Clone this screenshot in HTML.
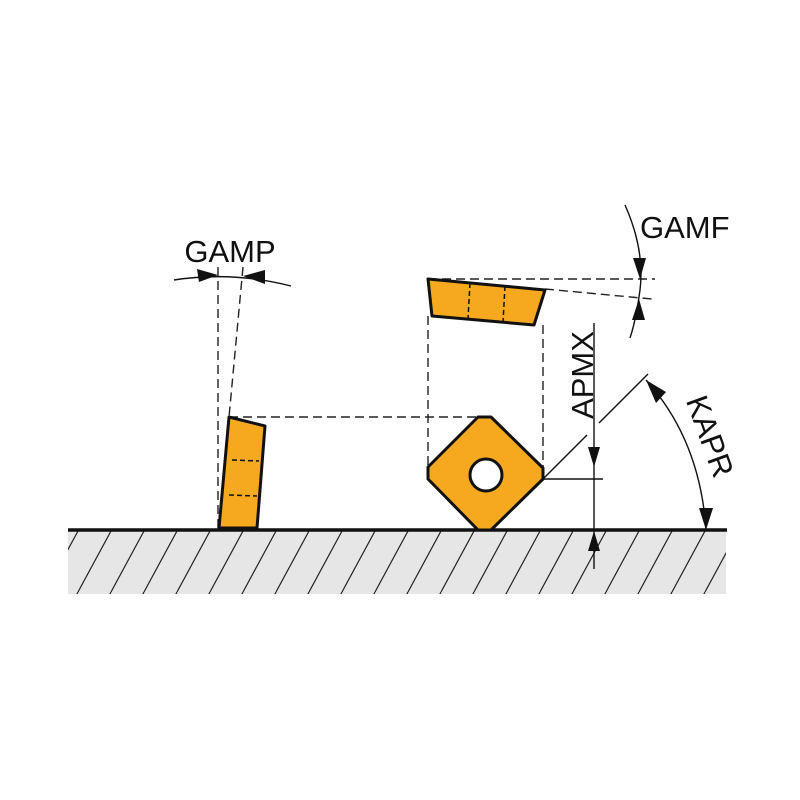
<!DOCTYPE html>
<html><head><style>body{margin:0;background:#fff}svg{display:block}</style></head><body>
<svg width="800" height="800" viewBox="0 0 800 800" xmlns="http://www.w3.org/2000/svg">
<defs>
<pattern id="h" patternUnits="userSpaceOnUse" width="33" height="61" x="573" y="531">
<line x1="0" y1="61" x2="33" y2="0" stroke="#222" stroke-width="1.2"/>
<line x1="-33" y1="61" x2="0" y2="0" stroke="#222" stroke-width="1.2"/>
<line x1="33" y1="61" x2="66" y2="0" stroke="#222" stroke-width="1.2"/>
</pattern>
<clipPath id="gc"><rect x="68" y="531" width="658" height="63"/></clipPath>
</defs>
<rect x="68" y="531" width="658" height="63" fill="#e6e6e7"/>
<g clip-path="url(#gc)">
<rect x="68" y="531" width="658" height="63" fill="url(#h)"/>
</g>
<line x1="68" y1="530" x2="727" y2="530" stroke="#111" stroke-width="3.5"/>

<g fill="none" stroke="#222" stroke-width="1.4" stroke-dasharray="9,5">
<line x1="218" y1="267" x2="218" y2="528"/>
<line x1="243" y1="267" x2="229" y2="417"/>
<line x1="229" y1="417" x2="490" y2="417"/>
<line x1="428" y1="316" x2="428" y2="467"/>
<line x1="543" y1="325" x2="543" y2="467"/>
<line x1="428" y1="279" x2="655" y2="279"/>
<line x1="545" y1="289" x2="652" y2="299"/>
</g>

<polygon points="229,417 265,426 257,528 219,528" fill="#f6a81e" stroke="#111" stroke-width="3" stroke-linejoin="round"/>
<g stroke="#111" stroke-width="1.5" stroke-dasharray="5,3">
<line x1="232" y1="460" x2="259" y2="461"/>
<line x1="229" y1="495" x2="257" y2="496"/>
</g>

<polygon points="428,279 545,290 534,325 432,316" fill="#f6a81e" stroke="#111" stroke-width="3" stroke-linejoin="round"/>
<g stroke="#111" stroke-width="1.5" stroke-dasharray="5,3">
<line x1="470" y1="283" x2="468" y2="319"/>
<line x1="505" y1="286" x2="503" y2="322"/>
</g>

<polygon points="478,417 491,417 543,468 543,479 491,530 478,530 428,479 428,467" fill="#f6a81e" stroke="#111" stroke-width="3" stroke-linejoin="round"/>
<circle cx="486" cy="475" r="16" fill="#fff" stroke="#111" stroke-width="3"/>

<path d="M174,280 Q232,271 291,286" stroke="#111" stroke-width="1.4" fill="none"/>
<polygon points="218,275 197,269 199,282" fill="#111"/>
<polygon points="243,276 265,270 265,284" fill="#111"/>
<text x="230" y="262" font-family="Liberation Sans, sans-serif" font-size="31" text-anchor="middle" fill="#111">GAMP</text>

<path d="M625,205 Q645,250 640,290 Q636,320 630,338" stroke="#111" stroke-width="1.4" fill="none"/>
<polygon points="640,279 633,258 646,258" fill="#111"/>
<polygon points="639,299 632,320 645,320" fill="#111"/>
<text x="640" y="238" font-family="Liberation Sans, sans-serif" font-size="31" fill="#111">GAMF</text>

<line x1="594" y1="323" x2="594" y2="569" stroke="#111" stroke-width="1.4"/>
<line x1="543" y1="479" x2="603" y2="479" stroke="#111" stroke-width="1.4"/>
<polygon points="594,467 588,447 600,447" fill="#111"/>
<polygon points="594,531 588,551 600,551" fill="#111"/>
<text transform="translate(593,375) rotate(-90)" font-family="Liberation Sans, sans-serif" font-size="31" text-anchor="middle" fill="#111">APMX</text>

<line x1="543" y1="479" x2="587" y2="435" stroke="#111" stroke-width="1.4"/>
<line x1="599" y1="423" x2="648" y2="374" stroke="#111" stroke-width="1.4"/>
<path d="M646,380 Q700,440 706,530" stroke="#111" stroke-width="1.4" fill="none"/>
<polygon points="646,380 666,392 656,403" fill="#111"/>
<polygon points="706,530 699,508 713,508" fill="#111"/>
<text transform="translate(700,440) rotate(70)" font-family="Liberation Sans, sans-serif" font-size="31" text-anchor="middle" fill="#111">KAPR</text>
</svg>
</body></html>
